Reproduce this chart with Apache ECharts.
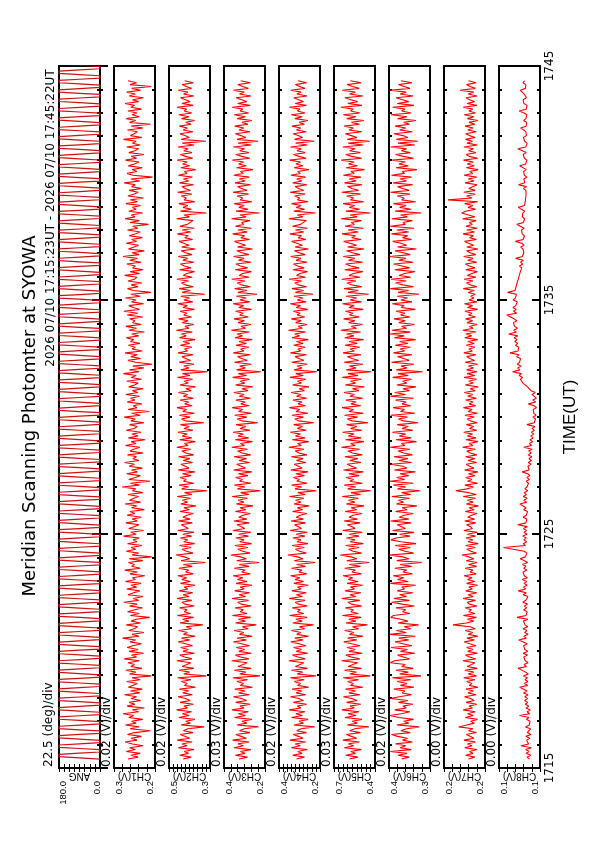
<!DOCTYPE html>
<html><head><meta charset="utf-8">
<script src="https://cdn.jsdelivr.net/npm/echarts@6/dist/echarts.min.js"></script>
<style>html,body{margin:0;padding:0;background:#fff}#c{width:595px;height:842px}</style>
</head><body><div id="c"></div>
<script>
// ---------------- data ----------------
const titleText = 'Meridian Scanning Photomter at SYOWA';
const periodText = '2026 07/10 17:15:23UT - 2026 07/10 17:45:22UT';
const timeAxisName = 'TIME(UT)';
const timeTickLabels = ['1715', '1725', '1735', '1745'];
const panelNames = ['ANG', 'CH1(V)', 'CH2(V)', 'CH3(V)', 'CH4(V)', 'CH5(V)', 'CH6(V)', 'CH7(V)', 'CH8(V)'];
const divLabels = ['22.5 (deg)/div', '0.02 (V)/div', '0.02 (V)/div', '0.03 (V)/div', '0.02 (V)/div', '0.03 (V)/div', '0.02 (V)/div', '0.00 (V)/div', '0.00 (V)/div'];
const axisMin = [0, 0.20, 0.30, 0.21, 0.20, 0.42, 0.30, 0.200, 0.100];
const axisMax = [180, 0.30, 0.50, 0.39, 0.40, 0.69, 0.40, 0.220, 0.120];
const axisDiv = [22.5, 0.02, 0.02, 0.03, 0.02, 0.03, 0.02, 0.004, 0.004];
// time in minutes after 17:15
const startMin = 23 / 60, endMin = 29 + 22 / 60;
const angStepSec = 3;
// scan angle (deg), one sample every 3 s
const ang = [
0,90,180,180,180,90,0,0, 0,90,180,180,180,90,0,0, 0,90,180,180,180,90,0,0, 0,90,180,180,180,90,0,0, 0,90,180,180,180,90,0,0,
0,90,180,180,180,90,0,0, 0,90,180,180,180,90,0,0, 0,90,180,180,180,90,0,0, 0,90,180,180,180,90,0,0, 0,90,180,180,180,90,0,0,
0,90,180,180,180,90,0,0, 0,90,180,180,180,90,0,0, 0,90,180,180,180,90,0,0, 0,90,180,180,180,90,0,0, 0,90,180,180,180,90,0,0,
0,90,180,180,180,90,0,0, 0,90,180,180,180,90,0,0, 0,90,180,180,180,90,0,0, 0,90,180,180,180,90,0,0, 0,90,180,180,180,90,0,0,
0,90,180,180,180,90,0,0, 0,90,180,180,180,90,0,0, 0,90,180,180,180,90,0,0, 0,90,180,180,180,90,0,0, 0,90,180,180,180,90,0,0,
0,90,180,180,180,90,0,0, 0,90,180,180,180,90,0,0, 0,90,180,180,180,90,0,0, 0,90,180,180,180,90,0,0, 0,90,180,180,180,90,0,0,
0,90,180,180,180,90,0,0, 0,90,180,180,180,90,0,0, 0,90,180,180,180,90,0,0, 0,90,180,180,180,90,0,0, 0,90,180,180,180,90,0,0,
0,90,180,180,180,90,0,0, 0,90,180,180,180,90,0,0, 0,90,180,180,180,90,0,0, 0,90,180,180,180,90,0,0, 0,90,180,180,180,90,0,0,
0,90,180,180,180,90,0,0, 0,90,180,180,180,90,0,0, 0,90,180,180,180,90,0,0, 0,90,180,180,180,90,0,0, 0,90,180,180,180,90,0,0,
0,90,180,180,180,90,0,0, 0,90,180,180,180,90,0,0, 0,90,180,180,180,90,0,0, 0,90,180,180,180,90,0,0, 0,90,180,180,180,90,0,0,
0,90,180,180,180,90,0,0, 0,90,180,180,180,90,0,0, 0,90,180,180,180,90,0,0, 0,90,180,180,180,90,0,0, 0,90,180,180,180,90,0,0,
0,90,180,180,180,90,0,0, 0,90,180,180,180,90,0,0, 0,90,180,180,180,90,0,0, 0,90,180,180,180,90,0,0, 0,90,180,180,180,90,0,0,
0,90,180,180,180,90,0,0, 0,90,180,180,180,90,0,0, 0,90,180,180,180,90,0,0, 0,90,180,180,180,90,0,0, 0,90,180,180,180,90,0,0,
0,90,180,180,180,90,0,0, 0,90,180,180,180,90,0,0, 0,90,180,180,180,90,0,0, 0,90,180,180,180,90,0,0, 0,90,180,180,180,90,0,0,
0,90,180,180,180,90,0,0, 0,90,180,180,180,90,0,0, 0,90,180,180,180,90,0,0, 0,90,180,180,180,90,0,0, 0,90,180,180,180,90,0,0
];
// channel voltages in mV, evenly sampled from 17:15:23 to 17:45:22
const ch1 = [266,241,259,236,270,248,262,229,255,273,244,258,233,267,250,211,261,239,272,246,
257,230,264,252,278,240,255,226,268,249,263,235,258,245,274,237,260,231,265,253,
243,269,236,256,209,262,247,271,232,259,250,266,238,275,245,257,228,263,241,268,
254,233,261,247,279,239,256,227,264,251,242,270,235,258,246,213,260,238,267,249,
231,262,244,276,240,253,229,266,252,237,269,245,259,234,272,248,255,225,261,243,
274,236,257,250,265,230,263,208,256,240,270,247,258,232,267,244,253,238,277,246,
259,228,264,251,239,271,243,256,233,268,249,261,226,257,245,273,235,262,252,240,
266,230,255,247,280,238,260,212,264,248,236,269,243,257,231,263,250,274,239,254,
245,267,229,261,252,237,272,246,258,224,265,241,256,234,270,251,243,262,227,259,
248,275,236,257,214,266,244,253,232,268,249,260,238,271,242,255,229,264,250,241,
269,233,258,246,277,239,262,227,254,207,247,266,235,259,243,273,231,256,248,265,
237,260,252,270,240,257,226,263,245,271,234,255,249,262,230,268,242,276,238,253,
264,228,257,246,272,236,259,210,253,267,241,258,232,266,250,244,274,237,261,229,
255,248,269,234,262,243,278,239,256,226,265,251,240,270,245,257,231,263,247,236,
267,242,254,216,261,238,273,249,258,230,264,246,255,235,271,243,260,228,266,252,
241,263,233,257,248,275,237,259,206,254,268,244,256,231,265,250,239,272,245,258,
227,264,249,240,269,236,255,246,277,232,260,251,243,267,229,258,211,262,247,270,
238,256,244,266,233,259,250,273,240,255,228,263,248,269,235,257,209,261,245,266];
const ch2 = [431,392,448,405,426,378,455,412,437,387,460,399,423,445,383,430,408,328,441,396,
418,374,452,402,435,390,463,409,427,381,446,397,420,456,386,433,404,449,371,425,
411,440,393,458,318,428,400,451,379,436,413,394,462,388,424,447,376,432,406,443,
385,420,455,398,439,372,429,410,453,391,417,335,446,403,434,380,459,395,426,412,
448,377,422,437,389,461,402,431,384,450,408,426,373,444,396,438,414,457,382,419,
404,452,387,430,322,441,399,425,466,383,415,436,392,449,375,428,409,445,390,433,
378,457,406,421,440,386,454,397,432,413,381,447,401,427,369,443,410,435,394,460,
388,424,315,438,405,451,379,429,416,446,392,434,374,455,403,421,442,385,431,398,
453,380,418,437,394,462,407,425,372,448,389,436,412,457,383,427,401,444,330,420,
439,397,450,376,433,415,461,387,423,404,445,381,430,409,454,392,418,371,447,406,
426,385,458,398,434,312,442,403,428,378,451,395,419,437,382,456,410,424,388,445,
399,431,373,449,416,440,386,464,402,422,379,435,407,453,390,428,413,446,376,432,
411,457,384,427,400,443,325,436,396,450,381,421,439,405,462,387,430,414,376,448,
393,425,445,379,433,409,455,388,418,441,372,438,402,429,451,385,423,406,459,395,
436,377,447,411,420,383,463,400,427,318,444,391,432,408,452,374,426,415,440,389,
458,396,421,437,380,449,404,430,386,454,412,425,370,442,399,433,411,460,384,419,
445,388,428,407,456,378,435,320,440,401,423,447,383,431,410,450,392,418,375,439,
403,452,389,426,414,461,382,437,397,420,444,379,429,408,455,390,416,436,381,424];
const ch3 = [324,287,340,298,318,272,346,305,329,280,352,292,315,338,276,322,301,239,333,290,
311,268,344,296,327,283,355,302,320,275,339,291,313,349,279,326,298,342,265,318,
304,333,286,351,232,321,294,345,271,329,306,288,356,281,317,340,270,325,299,336,
278,313,348,291,332,266,322,303,346,284,310,248,339,296,327,273,353,289,319,305,
341,271,315,330,282,355,295,324,277,343,301,319,267,337,289,331,307,350,275,312,
297,345,280,323,236,334,292,318,360,276,308,329,285,342,269,321,302,338,283,326,
272,351,299,314,333,279,347,290,325,306,274,340,294,320,263,336,303,328,287,354,
281,317,230,331,298,344,272,322,309,339,285,327,268,348,296,314,335,278,324,291,
346,273,311,330,287,356,300,318,265,341,282,329,305,350,276,320,294,337,242,313,
332,290,343,269,326,308,354,280,316,297,338,274,323,302,347,285,311,264,340,299,
319,278,352,291,327,228,335,296,321,271,344,288,312,330,275,349,303,317,281,338,
292,324,266,342,309,333,279,358,295,315,272,328,300,346,283,321,306,339,269,325,
304,350,277,320,293,336,245,329,289,343,274,314,332,298,356,280,323,307,270,341,
286,318,338,272,326,302,348,281,311,334,265,331,295,322,344,278,316,299,352,288,
329,270,340,304,313,276,357,293,320,234,337,284,325,301,345,267,319,308,333,282,
351,289,314,330,273,342,297,323,279,347,305,318,263,335,292,326,304,353,277,312,
338,281,321,300,349,271,328,240,333,294,316,340,276,324,303,343,285,311,268,332,
296,345,282,319,307,354,275,330,290,313,337,272,322,301,348,283,309,329,274,317];
const ch4 = [315,276,333,288,309,262,340,296,321,270,347,283,305,331,266,314,292,226,327,281,
302,258,339,286,318,273,350,293,311,265,330,281,304,344,269,317,289,336,255,309,
295,326,277,345,220,312,285,339,261,320,297,279,352,272,308,334,260,316,290,329,
268,304,342,282,323,256,313,294,340,275,301,232,333,287,318,263,348,280,310,296,
335,261,306,321,273,351,286,315,267,337,292,310,257,328,280,322,298,344,265,303,
288,339,271,314,224,325,283,309,357,267,299,320,276,336,259,312,293,332,274,317,
262,346,290,305,324,270,341,281,316,297,264,334,285,311,253,327,294,319,278,349,
272,308,218,322,289,338,263,313,300,330,276,318,258,343,287,305,326,269,315,282,
340,264,302,321,278,352,291,309,255,335,273,320,296,345,267,311,285,328,230,304,
323,281,337,259,317,299,349,271,307,288,332,265,314,293,341,276,302,254,334,290,
310,269,347,282,318,215,326,287,312,262,338,279,303,321,266,344,294,308,272,329,
283,315,257,336,300,324,270,354,286,306,263,319,291,340,274,312,297,330,260,316,
295,345,268,311,284,327,234,320,280,337,265,305,323,289,351,271,314,298,261,332,
277,309,329,263,317,293,343,272,302,325,256,322,286,313,338,269,307,290,347,279,
320,261,334,295,304,267,352,284,311,222,328,275,316,292,339,258,310,299,324,273,
346,280,305,321,264,333,288,314,270,342,296,309,254,326,283,317,295,348,268,303,
329,272,312,291,344,262,319,228,324,285,307,331,267,315,294,337,276,302,259,323,
287,340,273,310,298,349,266,321,281,304,328,263,313,292,343,274,300,320,265,308];
const ch5 = [589,532,613,549,580,511,622,560,595,522,632,541,575,609,516,587,553,461,603,537,
570,506,618,545,598,525,638,556,584,514,607,538,573,628,519,592,548,614,500,581,
562,600,528,630,452,586,543,621,509,597,566,534,640,521,577,612,504,591,550,605,
518,574,626,540,601,498,588,559,619,527,569,470,611,546,593,512,634,530,579,563,
615,507,576,599,520,639,547,585,513,617,555,582,501,604,531,596,567,631,510,572,
549,620,516,589,458,606,539,579,648,508,564,594,524,613,497,583,552,608,526,590,
503,632,551,571,602,518,624,536,591,565,505,616,541,577,492,609,553,595,529,636,
515,578,448,600,546,622,502,586,561,610,524,593,496,627,542,573,604,513,587,533,
619,504,568,598,521,641,550,580,493,614,511,596,558,633,507,582,539,607,465,570,
603,535,621,497,592,560,637,514,578,545,612,501,585,555,625,526,569,490,616,548,
581,509,635,532,598,445,609,544,589,499,623,528,571,601,512,631,556,584,520,618,
537,590,495,619,559,608,515,645,542,576,503,594,552,627,523,588,565,615,498,592,
557,634,510,583,540,611,462,597,531,624,506,574,605,546,640,518,591,563,500,620,
525,579,614,502,594,553,629,519,567,608,491,600,541,586,626,512,573,549,637,530,
597,496,617,556,576,509,643,538,584,450,612,521,589,554,630,495,581,561,606,516,
639,529,572,601,505,621,544,590,513,628,557,579,489,610,536,594,558,642,507,574,
613,517,587,551,632,498,596,455,602,539,576,616,508,591,562,623,522,575,494,606,
545,628,520,581,563,644,506,599,534,578,619,501,588,550,635,524,568,604,511,583];
const ch6 = [369,351,378,356,397,346,373,359,384,343,367,355,379,394,348,371,357,326,381,352,
364,340,376,398,370,349,386,358,366,342,377,354,396,375,345,368,361,388,339,372,
356,380,347,392,322,374,353,383,341,369,360,397,387,350,365,379,337,372,355,395,
344,366,385,352,376,336,398,358,382,347,363,328,378,354,371,396,389,349,367,359,
383,338,368,394,350,388,357,374,342,380,362,369,335,397,353,379,364,390,343,366,
357,386,345,373,320,381,351,367,399,340,361,376,348,385,334,371,395,383,349,374,
339,391,360,364,380,346,396,352,375,363,341,384,356,368,332,382,365,377,350,393,
347,369,324,379,359,389,341,398,362,381,352,373,336,387,357,366,396,345,376,354,
388,343,364,378,349,397,361,370,333,383,346,375,359,392,342,368,353,380,329,365,
377,355,396,337,372,362,390,347,368,358,384,340,397,360,386,350,366,334,381,357,
367,345,391,353,378,318,382,356,371,339,394,351,364,379,344,389,362,373,348,385,
354,374,335,387,363,398,348,393,357,369,338,376,360,388,349,372,361,383,336,370,
363,392,344,371,355,380,327,378,352,397,340,366,384,358,395,347,375,362,337,386,
350,368,389,341,376,359,398,348,365,385,333,379,357,371,391,345,367,354,394,352,
381,339,397,360,366,343,393,355,372,321,385,346,374,358,389,335,369,363,380,349,
396,351,367,379,342,390,357,373,345,394,362,368,332,383,353,376,360,392,340,365,
384,348,370,357,396,337,378,330,382,354,366,388,343,374,359,385,350,364,334,379,
356,395,346,369,361,391,339,380,352,367,383,341,373,358,397,349,363,377,344,371];
const ch7 = [208.1,205.0,209.4,205.8,207.6,203.9,209.9,206.3,208.6,204.6,210.3,205.4,207.3,209.1,204.2,208.0,205.9,212.8,208.9,205.2,
207.0,203.6,209.6,205.7,208.5,204.8,210.6,206.1,207.8,204.0,209.2,205.3,207.1,210.0,204.3,208.3,205.6,209.3,203.4,207.7,
206.4,208.9,204.9,210.4,204.1,208.2,205.5,209.8,203.8,208.7,206.5,205.0,210.8,204.5,207.5,209.5,203.7,208.4,205.8,209.0,
204.4,207.4,210.1,205.2,208.8,203.5,208.1,206.0,209.7,204.7,207.2,215.6,209.1,205.5,208.6,204.2,210.5,204.9,207.9,206.6,
209.6,203.9,207.6,208.7,204.6,210.7,205.7,208.3,204.0,209.4,206.2,207.9,203.6,209.0,205.0,208.5,206.3,210.2,204.3,207.3,
205.9,209.7,204.1,208.0,203.8,209.2,205.4,207.8,211.2,204.2,206.9,208.9,204.8,209.5,203.3,208.2,206.0,209.3,204.7,208.7,
203.7,210.3,206.1,207.1,209.0,204.5,209.9,205.1,208.4,206.6,203.9,209.6,205.3,207.7,203.2,209.1,205.8,208.6,204.6,210.6,
204.3,207.9,214.3,208.8,205.6,209.8,203.6,208.5,206.4,209.4,204.9,208.1,203.5,210.0,205.4,207.5,209.2,204.1,208.3,205.0,
209.5,204.0,207.2,208.9,204.7,210.9,205.9,207.8,203.4,209.3,204.4,208.6,206.1,210.4,204.0,207.6,205.5,209.1,203.8,207.1,
208.7,205.2,209.8,203.7,208.2,206.3,210.5,204.5,207.7,205.8,209.4,204.2,208.4,206.0,210.1,204.8,207.3,203.3,209.6,205.7,
207.9,204.1,210.2,205.0,208.7,203.9,209.0,205.6,208.1,203.6,209.7,205.1,207.4,208.9,204.4,210.3,206.2,207.9,204.9,209.2,
205.3,208.4,203.5,209.9,206.5,209.3,204.3,210.8,205.7,207.6,203.8,208.8,206.0,209.5,204.6,208.0,206.3,209.8,203.6,208.5,
206.1,210.0,204.0,207.8,205.4,207.0,204.8,208.2,205.2,210.6,203.9,207.2,209.1,205.9,210.2,204.4,208.6,206.4,203.7,209.4,
204.9,207.6,209.6,204.0,208.4,205.8,210.4,204.5,207.3,209.0,203.4,208.9,205.5,208.1,210.0,204.2,207.5,205.6,210.7,205.1,
208.9,203.8,209.3,206.2,207.7,204.3,210.9,205.0,208.0,211.4,209.5,204.6,208.3,205.9,209.9,203.5,218.1,206.3,209.0,204.7,
210.4,204.8,207.9,208.6,203.9,209.7,205.3,208.2,204.1,210.2,206.0,207.4,203.3,209.1,205.2,208.7,205.7,210.5,203.6,207.7,
209.2,204.5,208.0,205.6,210.3,203.7,208.8,206.1,209.5,204.8,207.6,209.4,204.2,208.4,205.8,209.7,204.9,207.8,203.5,208.6,
205.4,210.1,204.6,207.9,206.0,210.6,204.0,208.7,205.1,207.5,209.3,203.9,208.2,205.5,212.2,204.7,207.3,209.0,204.3,208.1];
const ch8 = [105.1,106.4,104.5,106.8,105.3,107.0,104.2,109.3,105.6,104.8,106.5,105.0,106.9,104.4,106.2,105.7,104.6,107.1,105.2,106.0,
104.9,106.6,105.4,110.0,105.1,106.3,104.7,106.8,105.5,107.2,105.9,107.5,106.1,107.4,105.8,108.0,106.3,107.1,109.9,106.0,
107.6,105.9,107.3,106.2,108.1,105.7,107.0,106.4,110.7,106.6,107.8,105.8,107.2,106.3,107.9,106.1,108.2,105.9,107.4,106.5,
108.0,106.2,107.1,110.4,106.7,107.9,105.8,107.5,106.4,108.3,106.0,107.3,106.6,108.1,105.9,111.2,106.8,107.7,106.3,108.0,
106.5,107.6,106.1,108.4,106.9,107.3,105.9,108.2,106.7,110.6,107.0,108.1,106.3,107.8,106.5,108.6,106.2,107.7,106.8,108.3,
106.4,107.9,106.9,108.5,106.1,107.6,109.7,107.2,108.0,106.4,107.7,106.8,117.8,107.1,108.2,106.5,107.9,106.7,108.4,106.3,
107.8,106.6,108.1,106.2,110.9,106.9,107.5,106.4,108.3,106.7,107.4,106.1,108.0,106.8,107.6,109.8,106.5,107.9,106.3,108.2,
106.6,107.7,106.0,107.4,106.4,107.1,105.6,106.7,105.2,106.4,104.9,106.0,108.7,105.3,104.6,105.9,104.4,105.7,104.2,105.4,
104.0,105.8,104.3,105.5,103.8,107.9,104.1,105.2,103.6,104.9,103.3,104.5,103.0,104.2,102.7,103.9,102.5,106.4,102.8,103.6,
102.2,103.4,101.9,103.0,102.4,103.3,101.7,102.9,105.7,102.1,103.5,101.8,102.6,103.9,102.3,104.4,103.6,106.1,105.2,108.3,
107.7,109.6,108.5,110.2,109.1,113.4,109.8,110.9,109.3,111.1,110.0,110.6,109.5,111.4,110.2,114.6,110.7,111.6,110.4,112.0,
110.9,112.3,111.2,112.6,110.8,115.3,111.5,112.8,111.0,112.4,111.7,113.0,111.3,112.7,111.9,116.2,111.4,112.9,111.6,113.2,
111.8,112.5,111.1,113.1,112.0,112.7,111.5,115.8,112.2,113.0,111.7,112.6,111.2,112.1,110.6,111.5,110.1,110.9,109.6,110.4,
108.9,110.0,108.4,109.5,108.1,111.9,108.6,109.2,107.9,108.8,108.3,109.4,107.8,108.9,112.0,108.2,109.1,107.6,108.7,108.0,
109.0,107.7,108.5,111.3,108.1,108.9,107.5,108.6,107.9,108.4,107.4,108.2,110.6,107.6,108.3,107.2,108.0,107.0,107.9,106.8,
107.7,106.9,108.1,106.6,110.5,107.4,106.8,107.9,106.5,107.6,107.1,108.0,106.7,107.5,109.9,107.0,107.8,106.4,107.6,106.9,
108.2,106.7,107.4,110.8,106.9,107.8,106.3,107.5,107.0,108.1,106.6,107.3,106.9,107.9,109.5,106.8,107.6,106.5,108.0,106.9,
107.4,106.4,107.8,110.2,106.7,107.5,106.3,107.9,107.0,108.2,106.6,107.3,107.7,106.8,109.6,107.1,107.8,106.9,108.3,107.5];
const channelsMilliVolt = [ch1, ch2, ch3, ch4, ch5, ch6, ch7, ch8];

// ---------------- layout ----------------
const P = { left0: 59, step: 55, width: 41, top: 66, height: 702 };
const FONT = 'DejaVu Sans';
const FONT2 = 'Liberation Sans';

const grids = [], xAxes = [], yAxes = [], series = [], graphics = [];
function near(a, b) { return Math.abs(a - b) < 1e-7; }

for (let k = 0; k < 9; k++) {
  const left = P.left0 + k * P.step;
  grids.push({ left: left, top: P.top, width: P.width, height: P.height, show: true,
    borderColor: '#000', borderWidth: 2, backgroundColor: 'transparent' });
  const mn = axisMin[k], mx = axisMax[k];
  const padL = k === 0 ? 9 : 11, padR = k === 0 ? 6 : 9;
  const base = { type: 'value', gridIndex: k, inverse: true, min: mn, max: mx, interval: axisDiv[k],
    axisLine: { show: false }, splitLine: { show: false },
    axisTick: { show: true, inside: true, length: 4, lineStyle: { color: '#000', width: 1 } } };
  xAxes.push(Object.assign({}, base, {
    position: 'bottom',
    name: panelNames[k], nameLocation: 'middle', nameGap: 3, nameRotate: 180, nameMoveOverlap: false,
    nameTextStyle: { fontFamily: FONT2, fontSize: 10, color: '#000' },
    axisLabel: { show: true, rotate: 90, margin: 13, fontFamily: FONT2, fontSize: 9.5, color: '#000',
      showMinLabel: true, showMaxLabel: true, hideOverlap: false,
      rich: { hi: { fontFamily: FONT2, fontSize: 9.5, color: '#000', padding: [padL, 0, 0, 0] },
              lo: { fontFamily: FONT2, fontSize: 9.5, color: '#000', padding: [0, 0, padR, 0] } },
      formatter: function (v) {
        if (near(v, mx)) return '{hi|' + v.toFixed(1) + '}';
        if (near(v, mn)) return '{lo|' + v.toFixed(1) + '}';
        return '';
      } }
  }));
  xAxes.push(Object.assign({}, base, { position: 'top', axisLabel: { show: false } }));
  const ybase = { type: 'value', gridIndex: k, min: 0, max: 30, interval: 10,
    axisLine: { show: false }, splitLine: { show: false },
    axisTick: { show: true, inside: true, length: 8, lineStyle: { color: '#000', width: 2 } },
    minorTick: { show: true, splitNumber: 10, length: 3, lineStyle: { color: '#000', width: 2 } } };
  yAxes.push(Object.assign({}, ybase, { position: 'left', axisLabel: { show: false } }));
  const last = k === 8;
  yAxes.push(Object.assign({}, ybase, { position: 'right',
    name: last ? timeAxisName : '', nameLocation: 'middle', nameRotate: 90, nameGap: 22, nameMoveOverlap: false,
    nameTextStyle: { fontFamily: FONT2, fontSize: 17, color: '#000' },
    axisLabel: { show: last, rotate: 90, margin: 4, fontFamily: FONT, fontSize: 12, color: '#000',
      formatter: function (v) { return timeTickLabels[Math.round(v / 10)]; } } }));

  let data;
  if (k === 0) {
    data = ang.map((a, i) => [a, startMin + i * angStepSec / 60]);
  } else {
    const arr = channelsMilliVolt[k - 1];
    const dt = (endMin - startMin) / (arr.length - 1);
    data = arr.map((mv, i) => [mv / 1000, startMin + i * dt]);
  }
  series.push({ type: 'line', xAxisIndex: 2 * k, yAxisIndex: 2 * k, data: data,
    showSymbol: false, symbol: 'none', clip: true, animation: false,
    lineStyle: { color: k === 0 ? '#cc1111' : '#ff0000', width: k === 0 ? 1.2 : 1.1 } });

  graphics.push({ type: 'text', x: left - (k === 0 ? 10 : 7), y: 767, rotation: Math.PI / 2,
    style: { text: divLabels[k], font: '12px "' + FONT + '"', fill: '#000', textAlign: 'left', textVerticalAlign: 'middle' } });
}
graphics.push({ type: 'text', x: 30, y: 416, rotation: Math.PI / 2,
  style: { text: titleText, font: '18px "' + FONT + '"', fill: '#000', textAlign: 'center', textVerticalAlign: 'middle' } });
graphics.push({ type: 'text', x: 51, y: 218, rotation: Math.PI / 2,
  style: { text: periodText, font: '12px "' + FONT + '"', fill: '#000', textAlign: 'center', textVerticalAlign: 'middle' } });

const chart = echarts.init(document.getElementById('c'), null, { renderer: 'canvas' });
chart.setOption({
  animation: false,
  backgroundColor: '#fff',
  textStyle: { fontFamily: FONT },
  grid: grids, xAxis: xAxes, yAxis: yAxes, series: series, graphic: graphics
});
</script></body></html>
